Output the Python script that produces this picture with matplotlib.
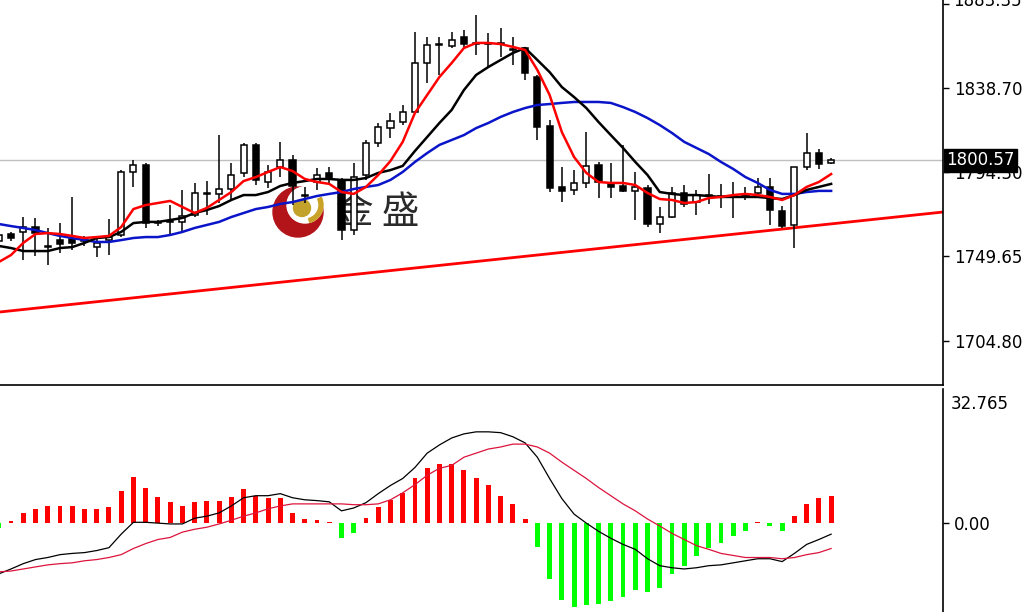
"""
Gold daily chart - candles with 3 moving averages, trend line and MACD panel
"""

import matplotlib
matplotlib.use('Agg')
import matplotlib.pyplot as plt
from matplotlib.patches import Circle, Wedge
import numpy as np

# ---------------------------------------------------------------
# data
# ---------------------------------------------------------------
bar_idx = list(range(-1, 68))

opens = [1757.8, 1761.5, 1762.6, 1765.2, 1754.6, 1758.3, 1758.9, 1757.8, 1754.6, 1758.3,
         1761.0, 1794.3, 1798.0, 1767.9, 1768.4, 1767.9, 1771.6, 1782.7, 1782.7, 1785.3,
         1793.8, 1808.6, 1789.0, 1796.9, 1800.6, 1782.1, 1789.0, 1793.8, 1790.1, 1763.6,
         1792.7, 1809.6, 1817.6, 1820.7, 1826.0, 1851.9, 1861.4, 1860.9, 1865.6, 1862.5,
         1862.5, 1862.5, 1859.3, 1859.8, 1844.5, 1818.6, 1786.4, 1784.8, 1788.5, 1798.0,
         1788.5, 1786.9, 1784.2, 1785.8, 1766.8, 1770.5, 1783.2, 1778.4, 1781.6, 1781.1,
         1781.6, 1781.6, 1783.2, 1786.4, 1773.7, 1766.3, 1796.9, 1804.3, 1799.0]
highs = [1762.0, 1762.6, 1770.5, 1770.0, 1764.7, 1767.3, 1781.1, 1760.5, 1759.9, 1769.5,
         1795.3, 1800.6, 1799.0, 1768.9, 1776.8, 1784.8, 1788.5, 1789.5, 1813.8, 1799.0,
         1809.6, 1809.6, 1798.0, 1810.1, 1803.3, 1786.4, 1796.4, 1797.0, 1791.1, 1799.0,
         1811.2, 1820.2, 1825.5, 1829.7, 1868.3, 1865.6, 1865.6, 1868.3, 1869.4, 1877.3,
         1867.8, 1870.4, 1865.6, 1860.4, 1845.6, 1821.8, 1796.9, 1795.3, 1815.4, 1799.6,
         1799.0, 1808.6, 1794.3, 1787.4, 1775.8, 1786.4, 1787.4, 1784.8, 1793.2, 1787.9,
         1789.0, 1786.4, 1791.1, 1791.1, 1776.3, 1797.0, 1814.9, 1806.5, 1801.7]
lows = [1756.8, 1757.8, 1747.8, 1749.9, 1745.1, 1751.5, 1753.1, 1755.2, 1749.4, 1750.4,
        1759.9, 1786.4, 1764.7, 1765.7, 1761.0, 1762.0, 1770.5, 1771.6, 1777.9, 1779.5,
        1791.7, 1787.4, 1785.8, 1791.7, 1776.8, 1777.9, 1784.8, 1788.5, 1758.3, 1761.0,
        1790.1, 1807.5, 1812.3, 1819.1, 1825.5, 1841.3, 1845.6, 1859.8, 1860.4, 1856.1,
        1849.8, 1855.1, 1850.9, 1842.9, 1811.2, 1783.7, 1778.4, 1782.1, 1785.8, 1780.5,
        1780.5, 1783.7, 1768.9, 1765.2, 1762.0, 1770.0, 1775.8, 1771.6, 1777.4, 1775.3,
        1770.0, 1779.5, 1781.1, 1766.3, 1764.7, 1754.1, 1795.3, 1795.9, 1798.5]
closes = [1761.0, 1759.4, 1765.2, 1762.0, 1755.2, 1756.2, 1756.8, 1758.3, 1756.8, 1759.9,
          1794.3, 1798.0, 1767.3, 1767.3, 1767.9, 1771.0, 1783.2, 1783.2, 1785.3, 1792.7,
          1808.6, 1790.1, 1794.3, 1800.6, 1786.9, 1781.6, 1792.7, 1791.1, 1763.6, 1791.7,
          1809.6, 1818.1, 1821.2, 1826.0, 1851.9, 1861.4, 1862.0, 1864.1, 1862.0, 1862.2,
          1862.0, 1862.0, 1858.8, 1846.6, 1818.1, 1785.8, 1784.2, 1788.5, 1797.5, 1789.0,
          1786.4, 1784.2, 1786.4, 1766.8, 1770.5, 1783.2, 1777.4, 1782.1, 1782.1, 1781.6,
          1781.1, 1781.9, 1786.4, 1774.2, 1765.7, 1796.9, 1804.3, 1798.5, 1800.57]

ma_fast = [1746.7, 1750.4, 1756.8, 1761.5, 1762.0, 1761.5, 1760.5, 1759.4, 1759.9, 1760.5,
           1765.2, 1774.7, 1776.8, 1777.9, 1779.0, 1775.8, 1772.6, 1775.3, 1779.5, 1783.7,
           1789.5, 1791.6, 1794.3, 1796.9, 1794.8, 1790.6, 1789.0, 1788.0, 1783.7, 1782.7,
           1786.4, 1792.7, 1800.1, 1810.2, 1825.5, 1835.0, 1844.5, 1851.9, 1859.8, 1862.5,
           1862.5, 1861.9, 1860.4, 1858.8, 1848.2, 1835.0, 1815.4, 1802.2, 1793.8, 1789.0,
           1788.5, 1788.5, 1787.4, 1783.2, 1780.0, 1779.5, 1777.9, 1778.4, 1780.5, 1781.1,
           1782.1, 1782.7, 1782.1, 1781.1, 1779.5, 1782.1, 1786.4, 1789.0, 1793.2]
ma_mid = [1755.2, 1754.1, 1752.5, 1752.5, 1752.5, 1754.1, 1754.6, 1756.8, 1759.4, 1759.9,
          1762.6, 1767.3, 1767.9, 1767.9, 1768.9, 1770.0, 1772.6, 1774.2, 1776.3, 1779.5,
          1782.1, 1782.1, 1783.7, 1786.9, 1788.5, 1789.5, 1790.6, 1790.6, 1790.1, 1790.1,
          1791.1, 1793.8, 1795.3, 1797.5, 1805.4, 1812.8, 1820.2, 1827.1, 1837.6, 1845.6,
          1849.8, 1853.5, 1857.2, 1859.8, 1853.5, 1847.1, 1839.2, 1833.9, 1828.1, 1820.7,
          1813.8, 1807.0, 1799.6, 1792.7, 1783.7, 1782.7, 1782.1, 1782.1, 1781.6, 1781.1,
          1781.1, 1781.1, 1781.1, 1780.5, 1780.0, 1782.1, 1784.8, 1786.4, 1788.0]
ma_slow = [1766.8, 1765.7, 1764.7, 1763.6, 1762.0, 1760.5, 1759.4, 1758.3, 1757.3, 1757.3,
           1758.3, 1759.4, 1759.9, 1759.9, 1761.0, 1762.6, 1764.7, 1766.3, 1767.9, 1770.5,
           1772.6, 1774.7, 1775.8, 1777.4, 1778.4, 1780.0, 1781.6, 1782.7, 1783.7, 1785.3,
           1786.4, 1787.4, 1790.1, 1794.3, 1799.6, 1804.3, 1808.6, 1811.2, 1813.8, 1817.5,
           1820.2, 1823.4, 1826.0, 1828.1, 1829.7, 1830.2, 1830.8, 1831.3, 1831.3, 1831.3,
           1830.8, 1828.6, 1826.0, 1822.8, 1819.1, 1814.9, 1810.2, 1807.0, 1803.8, 1799.6,
           1795.9, 1791.6, 1788.5, 1784.8, 1782.7, 1782.7, 1783.7, 1784.3, 1784.3]

# support trend line anchors (bar index, price)
trend_x = [-0.9, 76.1]
trend_y = [1720.3, 1773.1]

last_price = 1800.57
price_ticks = [1883.35, 1838.70, 1794.30, 1749.65, 1704.80]

macd_hist = [-1.24, 0.62, 2.36, 3.47, 4.09, 4.09, 4.09, 3.47, 3.47, 3.84,
             7.94, 11.16, 8.68, 6.45, 5.21, 4.22, 5.21, 5.46, 5.46, 6.45,
             8.43, 6.70, 6.20, 6.20, 2.48, 0.99, 0.87, 0.25, -3.72, -2.36,
             1.24, 3.97, 5.58, 7.32, 10.91, 13.52, 14.51, 14.51, 12.90, 10.91,
             9.30, 6.70, 4.71, 1.12, -5.83, -13.76, -18.72, -20.46, -19.96, -19.72,
             -18.97, -17.98, -16.24, -16.74, -15.75, -12.52, -10.54, -8.06, -6.08, -4.84,
             -3.10, -1.86, 0.25, -0.62, -1.86, 1.86, 4.71, 6.08, 6.70]
macd_main = [-12.4, -11.2, -9.9, -8.9, -8.4, -7.7, -7.4, -7.2, -6.7, -6.0,
             -2.7, 0.2, 0.2, 0.0, -0.2, -0.2, 1.2, 1.7, 2.5, 4.2,
             6.2, 6.7, 6.7, 7.2, 6.2, 5.7, 5.5, 5.2, 3.0, 3.7,
             5.0, 7.2, 9.2, 10.9, 13.6, 17.1, 19.1, 20.8, 21.8, 22.3,
             22.3, 22.1, 21.1, 19.6, 16.1, 10.9, 6.0, 2.2, 0.0, -2.0,
             -3.7, -5.2, -6.4, -8.7, -10.4, -10.9, -11.2, -10.9, -10.4, -10.2,
             -9.7, -9.2, -8.7, -8.7, -9.4, -7.4, -5.2, -4.0, -2.7]
macd_signal = [-11.9, -11.7, -11.2, -10.7, -10.2, -9.9, -9.7, -9.2, -8.9, -8.4,
               -7.7, -6.2, -5.0, -4.0, -3.5, -2.2, -1.5, -1.0, -0.2, 0.7,
               1.7, 2.5, 3.5, 4.2, 4.7, 4.7, 4.7, 4.7, 4.7, 4.5,
               4.5, 4.7, 5.7, 7.4, 9.4, 11.7, 13.4, 14.1, 16.1, 17.1,
               18.1, 18.6, 19.3, 19.3, 18.6, 17.1, 14.9, 12.9, 10.9, 8.7,
               6.7, 4.7, 3.0, 1.0, -0.7, -2.5, -4.0, -5.5, -6.4, -7.4,
               -7.9, -8.4, -8.4, -8.4, -8.7, -8.4, -7.7, -7.2, -6.2]
macd_top = 32.765

# ---------------------------------------------------------------
# figure layout (pixel based, 1029 x 612)
# ---------------------------------------------------------------
W, H = 1029, 612
fig = plt.figure(figsize=(W / 100, H / 100), dpi=100, facecolor='white')

plot_w = 943
ax = fig.add_axes([0, (H - 385) / H, plot_w / W, 385 / H])
ax2 = fig.add_axes([0, -2 / H, plot_w / W, (H - 389 + 2) / H])
ax.set_facecolor('none')
ax2.set_facecolor('none')

xlim = (-0.9, 76.14)
label_font = dict(family='DejaVu Sans', size=12)

# ---------------------------------------------------------------
# price panel
# ---------------------------------------------------------------
x = np.array(bar_idx)
o = np.array(opens)
c = np.array(closes)
up = c >= o

ax.axhline(last_price, color='#c0c0c0', lw=1, zorder=1)
ax.plot(trend_x, trend_y, color='#ff0000', lw=2, zorder=2)

ax.vlines(x, lows, highs, color='black', lw=1.1, zorder=3)
ax.bar(x, np.abs(c - o), bottom=np.minimum(o, c), width=0.5,
       color=np.where(up, 'white', 'black'), edgecolor='black',
       linewidth=1.1, zorder=4)

ax.plot(x, ma_slow, color='#0a14c8', lw=1.8, zorder=5)
ax.plot(x, ma_mid, color='black', lw=1.8, zorder=5)
ax.plot(x, ma_fast, color='#ff0000', lw=1.8, zorder=6)

ax.set_xlim(*xlim)
ax.set_ylim(1681.7, 1885.2)
ax.set_xticks([])
ax.yaxis.tick_right()
ax.set_yticks(price_ticks)
# top label sits half above the frame, drawn separately below
ax.set_yticklabels([''] + [f'{v:.2f}' for v in price_ticks[1:]], **label_font)
ax.tick_params(axis='y', length=4, width=1, pad=4, colors='black')
for side in ('top', 'left'):
    ax.spines[side].set_visible(False)
for side in ('right', 'bottom'):
    ax.spines[side].set_linewidth(1.2)

ax.text(1 + 10 / plot_w, 1 - 1 / 385, f'{price_ticks[0]:.2f}', transform=ax.transAxes,
        ha='left', va='center', clip_on=False, **label_font)

ax.text(1 + 3 / plot_w, last_price, '1800.57', transform=ax.get_yaxis_transform(),
        ha='left', va='center', color='white', clip_on=False, zorder=10,
        bbox=dict(boxstyle='square,pad=0.15', facecolor='black', edgecolor='black'),
        **label_font)

# ---------------------------------------------------------------
# MACD panel
# ---------------------------------------------------------------
hist = np.array(macd_hist)
ax2.bar(x, hist, width=0.4, color=np.where(hist >= 0, '#ff0000', '#00ff00'), zorder=2)
ax2.plot(x, macd_main, color='black', lw=0.9, zorder=3)
ax2.plot(x, macd_signal, color='#dc143c', lw=0.9, zorder=3)

ax2.set_xlim(*xlim)
ax2.set_ylim(-22.2, macd_top)
ax2.set_xticks([])
ax2.yaxis.tick_right()
ax2.set_yticks([0])
ax2.set_yticklabels(['0.00'], **label_font)
ax2.tick_params(axis='y', length=4, width=1, pad=4, colors='black')
for side in ('top', 'left', 'bottom'):
    ax2.spines[side].set_visible(False)
ax2.spines['right'].set_linewidth(1.2)
ax2.text(1 + 8 / plot_w, 1 - 6 / 225, f'{macd_top:.3f}', transform=ax2.transAxes,
         ha='left', va='top', clip_on=False, **label_font)

# ---------------------------------------------------------------
# watermark logo
# ---------------------------------------------------------------
logo = fig.add_axes([270 / W, (H - 240) / H, 56 / W, 56 / H], zorder=-1)
logo.set_xlim(0, 56)
logo.set_ylim(0, 56)
logo.axis('off')
logo.add_patch(Circle((28, 28), 25, color='#b3141a'))
logo.add_patch(Circle((35, 35), 18, color='white'))
logo.add_patch(Wedge((35, 35), 18, -75, 25, width=4, color='#c9a227'))
logo.add_patch(Circle((32, 32), 8.5, color='#c2a22a'))

fig.text(378 / W, 1 - 212 / H, '金 盛', ha='center', va='center', fontsize=27,
         color='#2a2a2a', family=['Noto Sans CJK SC', 'DejaVu Sans'], zorder=-1)

fig.savefig('out.png', dpi=100, facecolor='white')
plt.close(fig)
